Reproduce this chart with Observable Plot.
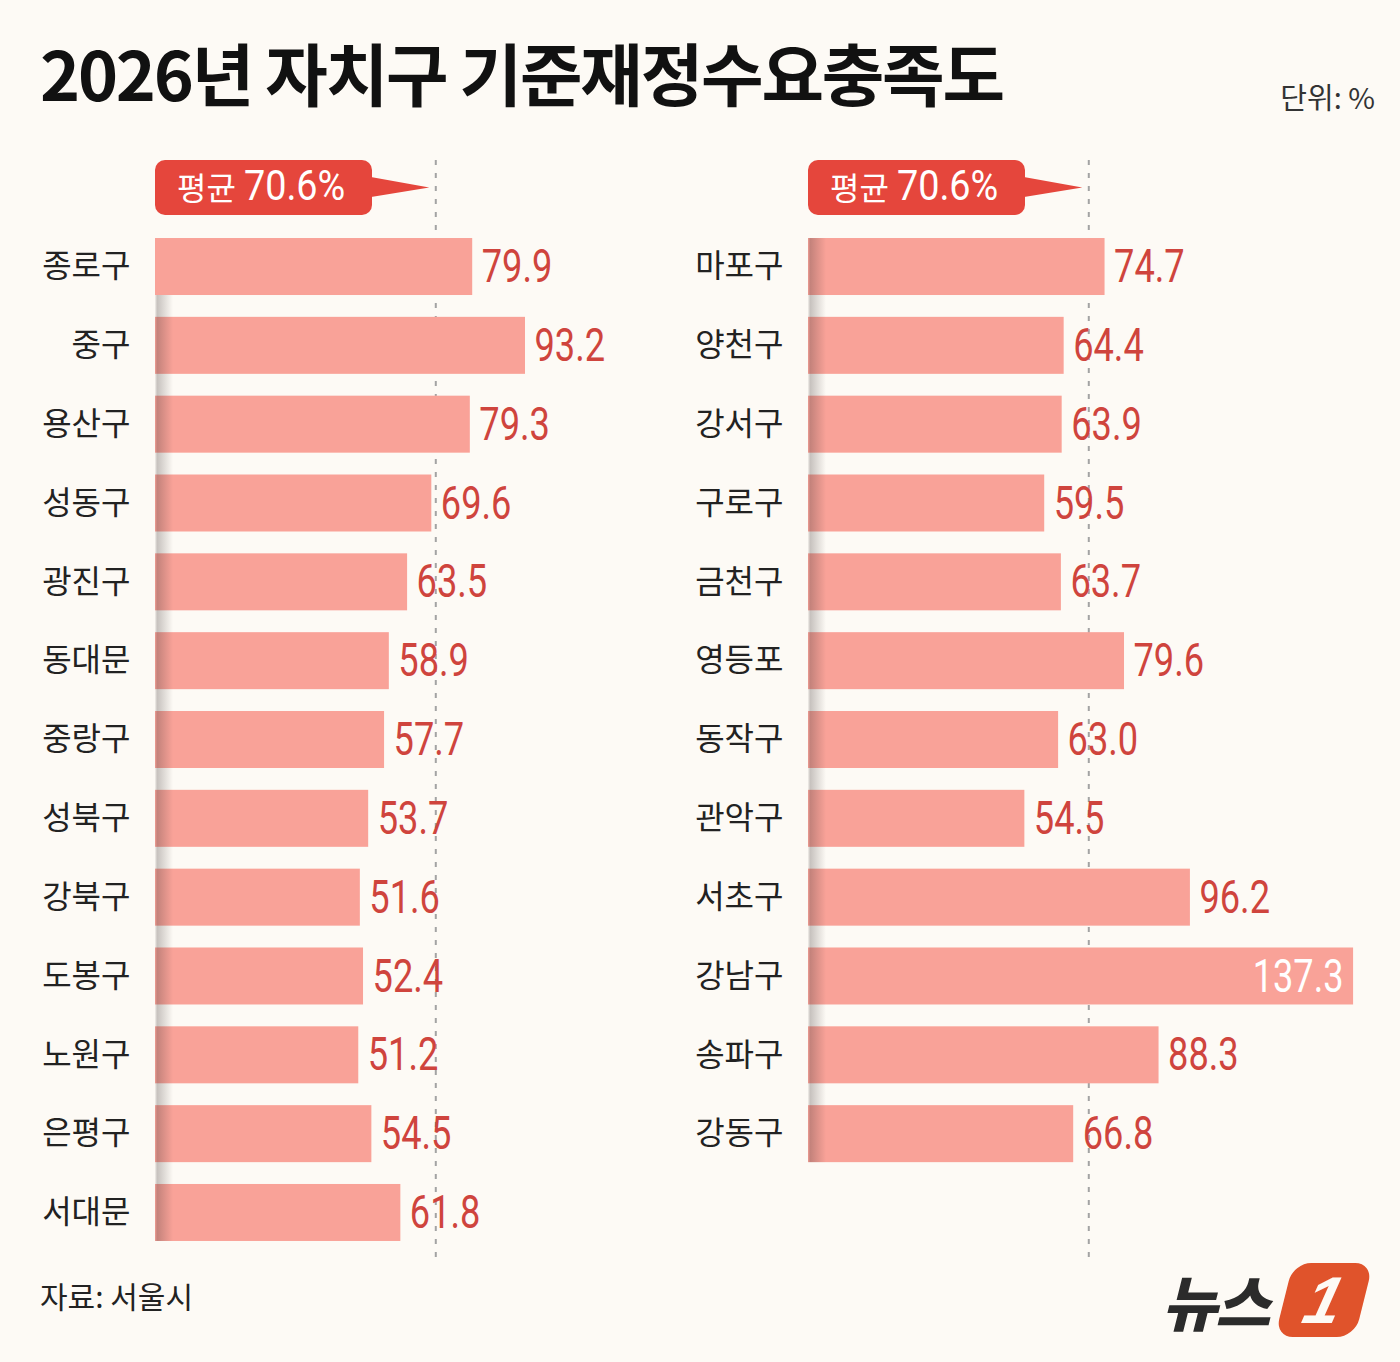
<!DOCTYPE html>
<html>
<head>
<meta charset="utf-8">
<script src="https://cdn.jsdelivr.net/npm/d3@7"></script>
<script src="https://cdn.jsdelivr.net/npm/@observablehq/plot@0.6"></script>
<style>
  html, body { margin: 0; padding: 0; background: #fdfaf5; }
  #page { position: relative; width: 1400px; height: 1362px; background: #fdfaf5; overflow: hidden;
          font-family: "Noto Sans CJK KR", "Noto Sans", sans-serif; color: #1a1a1a; }
  #title { position: absolute; left: 40px; top: 38px; font-size: 68px; font-weight: 700; line-height: 1;
           letter-spacing: -2.2px; color: #111; white-space: nowrap; }
  #unit { position: absolute; right: 25px; top: 82px; font-size: 29px; line-height: 1; color: #333; }
  #source { position: absolute; left: 40px; top: 1280px; font-size: 30px; line-height: 1; color: #222; }
  #left { position: absolute; left: 0; top: 130px; }
  #right { position: absolute; left: 700px; top: 130px; }
  #logo { position: absolute; left: 1162px; top: 1262px; height: 76px; display: flex; align-items: center; }
  #logo .txt { font-size: 60px; font-weight: 900; color: #2b2b2b; letter-spacing: -2px; font-style: italic; line-height: 1; }
  #logo .one { margin-left: 16px; width: 80px; height: 74px; background: #e0532b; border-radius: 18px;
               transform: skewX(-14deg); display: flex; align-items: center; justify-content: center; }
  #logo .one span { color: #fdfaf5; font-family: "Liberation Sans", Arial, sans-serif; font-weight: 700; font-size: 66px;
                    font-style: italic; line-height: 1; }
</style>
</head>
<body>
<div id="page">
  <div id="title">2026년 자치구 기준재정수요충족도</div>
  <div id="unit">단위: %</div>
  <div id="left"></div>
  <div id="right"></div>
  <div id="source">자료: 서울시</div>
  <div id="logo"><span class="txt">뉴스</span><div class="one"><span>1</span></div></div>
</div>
<script>
// ---- data ----
const leftNames = ["종로구", "중구", "용산구", "성동구", "광진구", "동대문", "중랑구", "성북구", "강북구", "도봉구", "노원구", "은평구", "서대문"];
const leftValues = [79.9, 93.2, 79.3, 69.6, 63.5, 58.9, 57.7, 53.7, 51.6, 52.4, 51.2, 54.5, 61.8];
const rightNames = ["마포구", "양천구", "강서구", "구로구", "금천구", "영등포", "동작구", "관악구", "서초구", "강남구", "송파구", "강동구"];
const rightValues = [74.7, 64.4, 63.9, 59.5, 63.7, 79.6, 63.0, 54.5, 96.2, 137.3, 88.3, 66.8];
const averageValue = 70.6;
const averageLabel = ["평균", "70.6%"];
const xMax = 140;

// ---- style / layout ----
const BAR = "#f9a298";
const RED = "#cf443d";
const CALLOUT = "#e5463c";
const NUM_FONT = "Roboto, 'Noto Sans', sans-serif";
const PX_PER_UNIT = 3.97;
const STEP = 78.83;
const BAND_START = 97.1;

function panel(names, values, {width, marginLeft, key, shadeFromFirstBottom}) {
  const data = names.map((name, i) => ({name, value: values[i]}));
  const plotW = xMax * PX_PER_UNIT;

  const shadow = (index, scales) => {
    const g = d3.create("svg:g");
    const id = "shade-" + key;
    const grad = g.append("defs").append("linearGradient").attr("id", id)
      .attr("x1", 0).attr("x2", 1).attr("y1", 0).attr("y2", 0);
    grad.append("stop").attr("offset", 0).attr("stop-color", "#3a3030").attr("stop-opacity", 0.05);
    grad.append("stop").attr("offset", 0.12).attr("stop-color", "#3a3030").attr("stop-opacity", 0.28);
    grad.append("stop").attr("offset", 1).attr("stop-color", "#3a3030").attr("stop-opacity", 0);
    const x0 = scales.x(0);
    const bw = scales.y.bandwidth();
    const yTop = scales.y(names[0]) + (shadeFromFirstBottom ? bw : 0);
    const yBot = scales.y(names[names.length - 1]) + bw;
    g.append("rect").attr("x", x0).attr("y", yTop).attr("width", 18).attr("height", yBot - yTop)
      .attr("fill", `url(#${id})`);
    return g.node();
  };

  const callout = (index, scales, values, dims) => {
    const g = d3.create("svg:g");
    const x0 = scales.x(0);
    const xt = scales.x(averageValue) - 6;
    const top = dims.marginTop, h = 55, w = 217;
    const cy = top + h / 2;
    g.append("path")
      .attr("d", `M${x0 + w - 4},${cy - 11}L${xt},${cy}L${x0 + w - 4},${cy + 10}Z`)
      .attr("fill", CALLOUT);
    g.append("rect").attr("x", x0).attr("y", top).attr("width", w).attr("height", h)
      .attr("rx", 10).attr("fill", CALLOUT);
    const t = g.append("text").attr("x", x0 + 22).attr("y", cy + 12).attr("fill", "#fff")
      .attr("text-anchor", "start");
    t.append("tspan").attr("font-size", 32).attr("font-family", "'Noto Sans CJK KR', sans-serif")
      .text(averageLabel[0]);
    t.append("tspan").attr("class", "narrow-callout").attr("dx", 8).attr("font-size", 42).attr("font-family", NUM_FONT)
      .text(averageLabel[1]);
    return g.node();
  };

  return Plot.plot({
    width,
    height: 1132,
    marginTop: 30,
    marginBottom: 0,
    marginLeft,
    marginRight: width - marginLeft - plotW,
    style: {fontFamily: "'Noto Sans CJK KR', 'Noto Sans', sans-serif", background: "transparent", overflow: "visible"},
    x: {domain: [0, xMax], axis: null},
    y: {domain: names, range: [BAND_START, BAND_START + names.length * STEP], paddingInner: 0.277, paddingOuter: 0.1385, round: false},
    marks: [
      Plot.ruleX([averageValue], {stroke: "#a3a3a3", strokeWidth: 2, strokeDasharray: "5,8"}),
      Plot.barX(data, {x: "value", y: "name", fill: BAR}),
      shadow,
      Plot.axisY({tickSize: 0, tickPadding: 25, fontSize: 32, fill: "#222", textAnchor: "end", label: null}),
      Plot.text(data.filter(d => d.value <= xMax - 15), {
        x: "value", y: "name", text: d => d.value.toFixed(1), dx: 9, textAnchor: "start",
        fill: RED, fontSize: 47, fontFamily: NUM_FONT, className: "narrow"
      }),
      Plot.text(data.filter(d => d.value > xMax - 15), {
        x: "value", y: "name", text: d => d.value.toFixed(1), dx: -10, textAnchor: "end",
        fill: "#fff", fontSize: 47, fontFamily: NUM_FONT, className: "narrow"
      }),
      callout
    ]
  });
}

function condense(svg) {
  svg.querySelectorAll(".narrow text").forEach(t => {
    const w = t.getComputedTextLength();
    t.setAttribute("textLength", (w * 0.77).toFixed(1));
    t.setAttribute("lengthAdjust", "spacingAndGlyphs");
  });
  svg.querySelectorAll(".narrow-callout").forEach(t => {
    const w = t.getComputedTextLength();
    t.setAttribute("textLength", (w * 0.9).toFixed(1));
    t.setAttribute("lengthAdjust", "spacingAndGlyphs");
  });
}

const leftSvg = panel(leftNames, leftValues, {width: 720, marginLeft: 155, key: "l", shadeFromFirstBottom: true});
document.getElementById("left").append(leftSvg);
const rightSvg = panel(rightNames, rightValues, {width: 700, marginLeft: 108, key: "r", shadeFromFirstBottom: false});
document.getElementById("right").append(rightSvg);
condense(leftSvg);
condense(rightSvg);
</script>
</body>
</html>
